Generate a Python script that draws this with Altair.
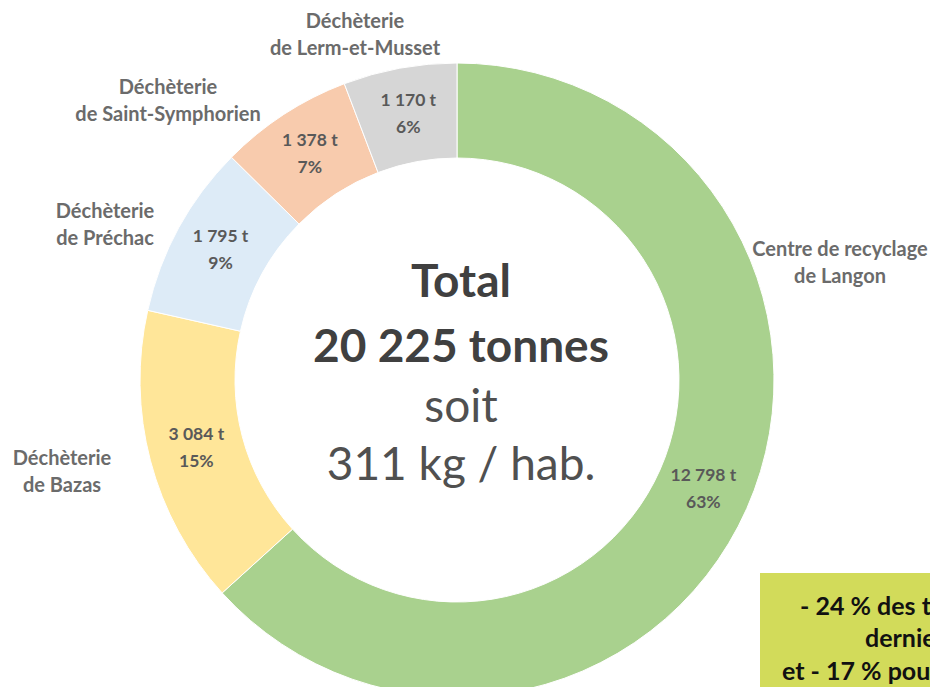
import altair as alt
import pandas as pd

# ---- data ----
sites = [
    "Centre de recyclage de Langon",
    "Déchèterie de Bazas",
    "Déchèterie de Préchac",
    "Déchèterie de Saint-Symphorien",
    "Déchèterie de Lerm-et-Musset",
]
tonnes = [12798, 3084, 1795, 1378, 1170]
tonnes_labels = ["12 798 t", "3 084 t", "1 795 t", "1 378 t", "1 170 t"]
percent_labels = ["63%", "15%", "9%", "7%", "6%"]
site_label_lines = [
    "Centre de recyclage\nde Langon",
    "Déchèterie\nde Bazas",
    "Déchèterie\nde Préchac",
    "Déchèterie\nde Saint-Symphorien",
    "Déchèterie\nde Lerm-et-Musset",
]
center_lines = ["Total", "20 225 tonnes", "soit", "311 kg / hab."]
note_lines = [
    "- 24 % des tonnages ces 10",
    "derniers ans",
    "et - 17 % pour les ratios",
]

# ---- styles / layout ----
colors = ["#A9D18E", "#FFE699", "#DDEBF7", "#F8CBAD", "#D6D6D6"]
CX, CY = 449, 372
R_OUT, R_IN = 317, 222
FONT = "Lato"

df = pd.DataFrame({
    "site": sites,
    "tonnes": tonnes,
    "order": list(range(len(sites))),
    "lbl": [f"{t}\n{p}" for t, p in zip(tonnes_labels, percent_labels)],
})

theta = alt.Theta("tonnes:Q", stack=True)
order = alt.Order("order:Q")

arc = alt.Chart(df).mark_arc(radius=R_OUT, radius2=R_IN, stroke="white", strokeWidth=1).encode(
    theta=theta,
    order=order,
    color=alt.Color("site:N", scale=alt.Scale(domain=sites, range=colors), legend=None),
    x=alt.value(CX),
    y=alt.value(CY),
)

inner = alt.Chart(df).mark_text(
    radius=(R_OUT + R_IN) / 2, dy=-13.5, font=FONT, fontSize=17.5, fontWeight="bold",
    color="#595959", lineBreak="\n", lineHeight=27, align="center", baseline="middle",
).encode(theta=theta, order=order, text="lbl:N", x=alt.value(CX), y=alt.value(CY))

layers = [arc, inner]

# outer category labels (layout anchors of first line)
outer_pos = [(832, 242), (54, 451), (97, 204), (160, 80), (347, 14)]
for txt, (px, py) in zip(site_label_lines, outer_pos):
    layers.append(
        alt.Chart(pd.DataFrame({"t": [txt]})).mark_text(
            font=FONT, fontSize=20, fontWeight="bold", color="#6b6b6b",
            lineBreak="\n", lineHeight=27, align="center", baseline="middle",
        ).encode(text="t:N", x=alt.value(px), y=alt.value(py))
    )

# center text
center_style = [(289, 46, "bold", "#404040"), (354, 46, "bold", "#404040"),
                (414, 46, "normal", "#505050"), (472, 46, "normal", "#505050")]
for txt, (py, fs, fw, col) in zip(center_lines, center_style):
    layers.append(
        alt.Chart(pd.DataFrame({"t": [txt]})).mark_text(
            font=FONT, fontSize=fs, fontWeight=fw, color=col,
            align="center", baseline="alphabetic",
        ).encode(text="t:N", x=alt.value(453), y=alt.value(py))
    )

# note box
layers.append(
    alt.Chart(pd.DataFrame({"t": [""]})).mark_rect(color="#D2DB5A").encode(
        x=alt.value(752), x2=alt.value(960), y=alt.value(565), y2=alt.value(700)
    )
)
note_pos = [(792, 607), (857, 639), (774, 672)]
for txt, (px, py) in zip(note_lines, note_pos):
    layers.append(
        alt.Chart(pd.DataFrame({"t": [txt]})).mark_text(
            font=FONT, fontSize=25, fontWeight="bold", color="#111111",
            align="left", baseline="alphabetic",
        ).encode(text="t:N", x=alt.value(px), y=alt.value(py))
    )

chart = alt.layer(*layers).properties(
    width=922, height=679, padding=0,
    autosize=alt.AutoSizeParams(type="none"),
).configure_view(stroke=None)

chart.save("out.html", embed_options={"renderer": "svg", "actions": False})
